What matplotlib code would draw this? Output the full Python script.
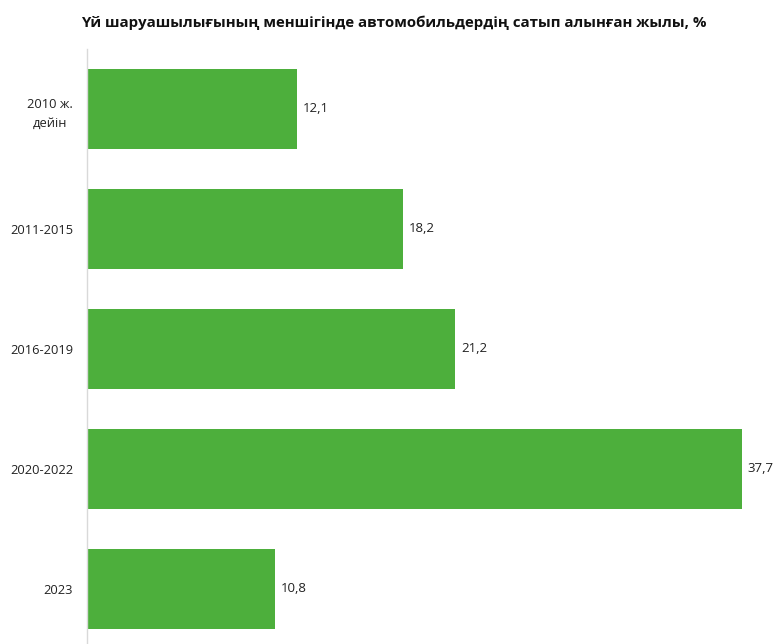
import matplotlib.pyplot as plt

plt.rcParams['font.family'] = ['Open Sans', 'DejaVu Sans']

categories = ['2010 ж.\nдейін', '2011-2015', '2016-2019', '2020-2022', '2023']
shares = [12.1, 18.2, 21.2, 37.7, 10.8]
value_labels = ['12,1', '18,2', '21,2', '37,7', '10,8']

fig = plt.figure(figsize=(7.76, 6.44), dpi=100)
ax = fig.add_axes([87 / 776, -5 / 644, 689 / 776, 600 / 644])

ypos = list(range(len(categories)))
ax.barh(ypos, shares, height=0.667, color='#4DAF3C')

for y, v, txt in zip(ypos, shares, value_labels):
    ax.text(v + 0.35, y, txt, va='center', ha='left', fontsize=9.5, color='#222222')

ax.set_yticks(ypos)
ax.set_yticklabels(categories, fontsize=9.3, color='#222222')
for lbl in ax.get_yticklabels():
    lbl.set_multialignment('center')
    lbl.set_linespacing(1.6)
ax.tick_params(axis='y', length=0, pad=10)
ax.set_ylim(len(categories) - 0.5, -0.5)
ax.set_xlim(0, 39.67)
ax.set_xticks([])

for side in ['top', 'right', 'bottom']:
    ax.spines[side].set_visible(False)
ax.spines['left'].set_color('#D9D9D9')
ax.spines['left'].set_linewidth(1)

fig.text(0.508, 1 - 23 / 644, 'Үй шаруашылығының меншігінде автомобильдердің сатып алынған жылы, %',
         ha='center', va='center', fontsize=10.8, fontweight='bold', color='#111111')

fig.savefig('out.png', dpi=100)
